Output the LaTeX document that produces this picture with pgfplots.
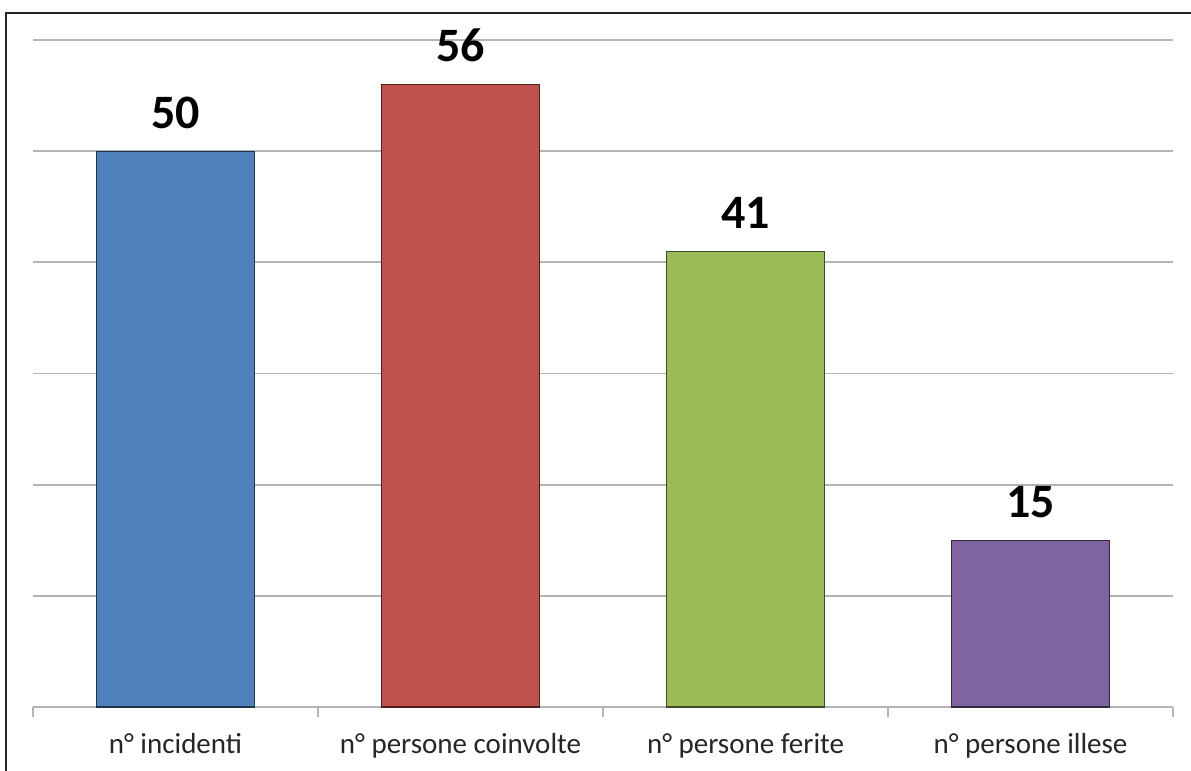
\documentclass[border=0pt]{standalone}
\usepackage{fontspec}
\setmainfont{Carlito}
\usepackage{pgfplots}
\pgfplotsset{compat=1.18}
\definecolor{cblue}{RGB}{79,129,189}
\definecolor{cred}{RGB}{192,80,77}
\definecolor{cgreen}{RGB}{155,187,89}
\definecolor{cpurple}{RGB}{128,100,162}
\definecolor{gridc}{RGB}{180,180,180}
\begin{document}
\begin{tikzpicture}
\clip (-16.5pt,-32pt) rectangle (579pt,353.5pt);
\fill[white] (-16.5pt,-32pt) rectangle (579pt,353.5pt);
\draw[line width=1.2pt, black!85] (-13.5pt,-40pt) -- (-13.5pt,347pt) -- (590pt,347pt);
\begin{axis}[
  at={(0,0)}, anchor=south west,
  scale only axis,
  width=570pt, height=333.5pt,
  xmin=-0.5, xmax=3.5,
  ymin=0, ymax=60,
  ytick={0,10,20,30,40,50,60},
  yticklabels={},
  ymajorgrids,
  major grid style={gridc, line width=0.9pt},
  axis x line=bottom,
  axis y line=left,
  x axis line style={gridc, line width=0.9pt, -},
  y axis line style={draw=none},
  major y tick style={draw=none},
  xtick={0,1,2,3},
  xticklabels={n° incidenti, n° persone coinvolte, n° persone ferite, n° persone illese},
  major x tick style={draw=none},
  minor xtick={-0.5,0.5,1.5,2.5,3.5},
  minor x tick style={gridc, line width=0.9pt},
  minor tick length=5pt,
  tick align=outside,
  major tick length=0pt,
  x tick label style={font=\fontsize{14.5}{15}\selectfont, anchor=base, yshift=-23.5pt, text=black!85},
  ybar, bar width=79pt, bar shift=0pt,
  /pgf/number format/assume math mode=true,
  nodes near coords,
  every node near coord/.append style={font=\fontsize{24}{24}\selectfont\bfseries, inner sep=0pt, yshift=11pt, text=black},
  clip=false,
]
\addplot[fill=cblue, draw=cblue!40!black, line width=0.6pt] coordinates {(0,50)};
\addplot[fill=cred, draw=cred!40!black, line width=0.6pt] coordinates {(1,56)};
\addplot[fill=cgreen, draw=cgreen!40!black, line width=0.6pt] coordinates {(2,41)};
\addplot[fill=cpurple, draw=cpurple!40!black, line width=0.6pt] coordinates {(3,15)};
\end{axis}
\end{tikzpicture}
\end{document}
